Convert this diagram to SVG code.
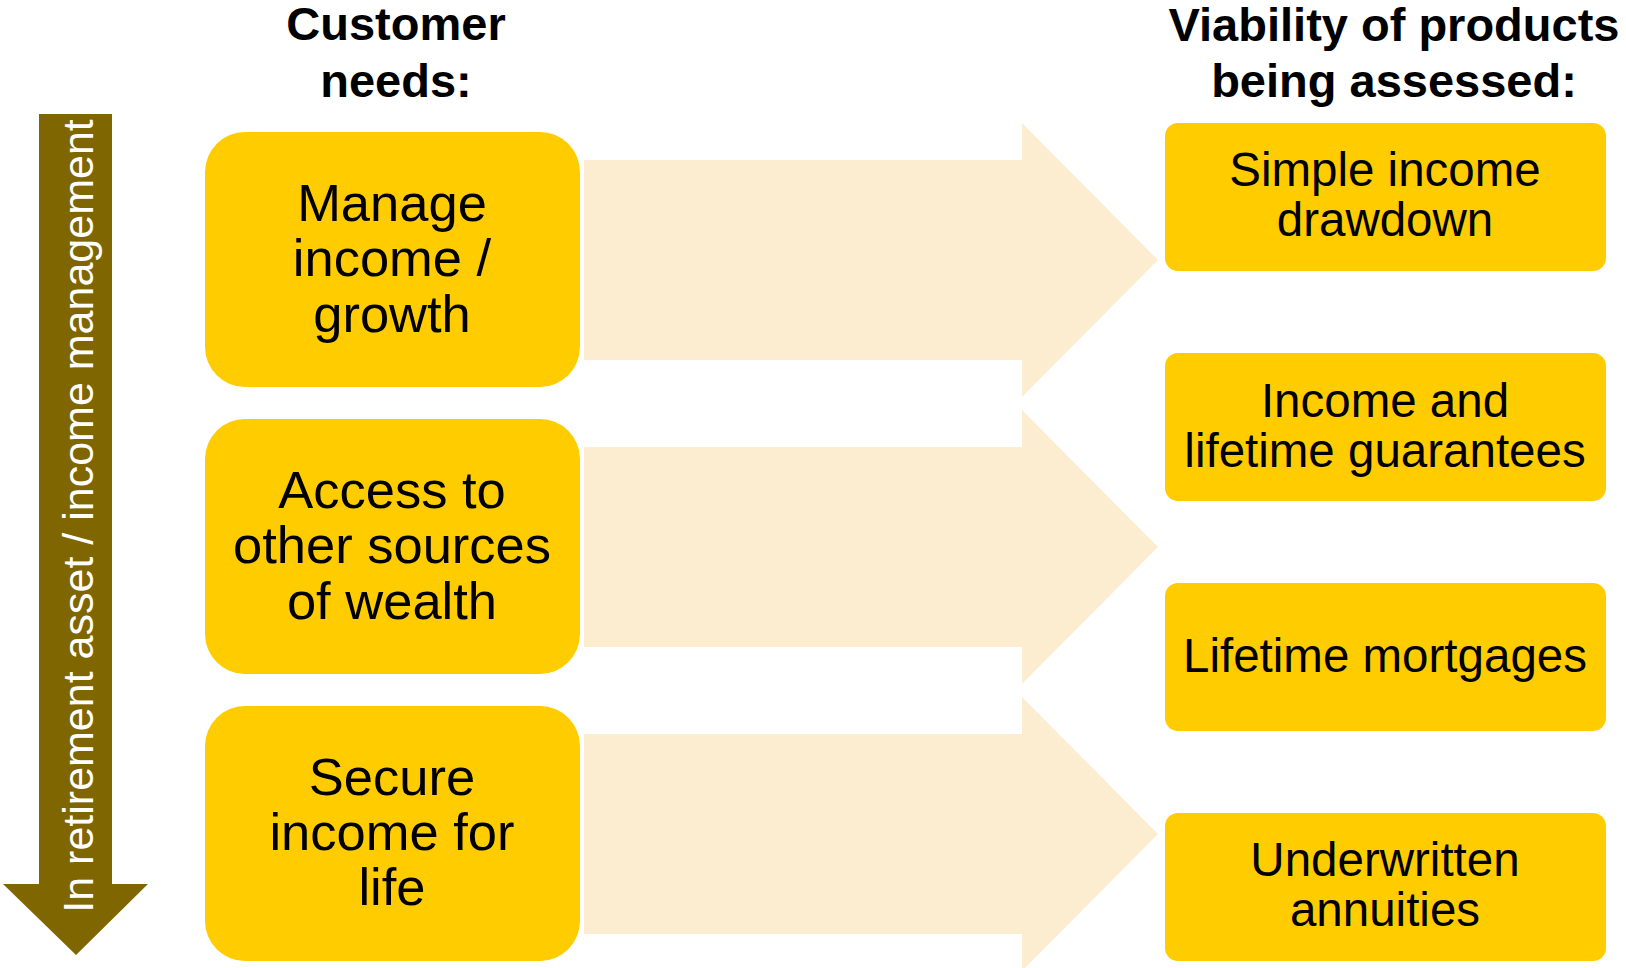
<svg xmlns="http://www.w3.org/2000/svg" width="1626" height="968" viewBox="0 0 1626 968">
<style>
.hdr{font-family:"Liberation Sans",Arial,sans-serif;font-weight:bold;font-size:47px;fill:#000;text-anchor:middle}
.need rect{fill:#FFCC00}
.need text{font-family:"Liberation Sans",Arial,sans-serif;font-size:52.5px;fill:#000;text-anchor:middle}
.prod rect{fill:#FFCC00}
.prod text{font-family:"Liberation Sans",Arial,sans-serif;font-size:47.5px;fill:#000;text-anchor:middle}
.flow{fill:#FDEDD0}
</style>
<rect width="1626" height="968" fill="#fff"/>
<g id="headers">
<text class="hdr" x="396" y="40">Customer</text>
<text class="hdr" x="396" y="97">needs:</text>
<text class="hdr" x="1394" y="41">Viability of products</text>
<text class="hdr" x="1394" y="97">being assessed:</text>
</g>
<g id="timeline">
<polygon points="39,114 112,114 112,884 148,884 76,955 3,884 39,884" fill="#806600"/>
<text transform="translate(93,516) rotate(-90)" text-anchor="middle" font-family="'Liberation Sans',Arial,sans-serif" font-size="43" fill="#fff">In retirement asset / income management</text>
</g>
<g id="connectors">
<polygon class="flow" points="584,160 1022,160 1022,123 1158,260 1022,397 1022,360 584,360"/>
<polygon class="flow" points="584,447 1022,447 1022,410 1158,547 1022,684 1022,647 584,647"/>
<polygon class="flow" points="584,734 1022,734 1022,697 1158,834 1022,971 1022,934 584,934"/>
</g>
<g id="need1" class="need">
<rect x="205" y="132" width="375" height="255" rx="40"/>
<text x="392" y="221">Manage</text>
<text x="392" y="276">income /</text>
<text x="392" y="332">growth</text>
</g>
<g id="need2" class="need">
<rect x="205" y="419" width="375" height="255" rx="40"/>
<text x="392" y="508">Access to</text>
<text x="392" y="563">other sources</text>
<text x="392" y="619">of wealth</text>
</g>
<g id="need3" class="need">
<rect x="205" y="706" width="375" height="255" rx="40"/>
<text x="392" y="795">Secure</text>
<text x="392" y="850">income for</text>
<text x="392" y="905">life</text>
</g>
<g id="prod1" class="prod">
<rect x="1165" y="123" width="441" height="148" rx="13"/>
<text x="1385" y="186">Simple income</text>
<text x="1385" y="236">drawdown</text>
</g>
<g id="prod2" class="prod">
<rect x="1165" y="353" width="441" height="148" rx="13"/>
<text x="1385" y="417">Income and</text>
<text x="1385" y="467">lifetime guarantees</text>
</g>
<g id="prod3" class="prod">
<rect x="1165" y="583" width="441" height="148" rx="13"/>
<text x="1385" y="672">Lifetime mortgages</text>
</g>
<g id="prod4" class="prod">
<rect x="1165" y="813" width="441" height="148" rx="13"/>
<text x="1385" y="876">Underwritten</text>
<text x="1385" y="926">annuities</text>
</g>
</svg>
